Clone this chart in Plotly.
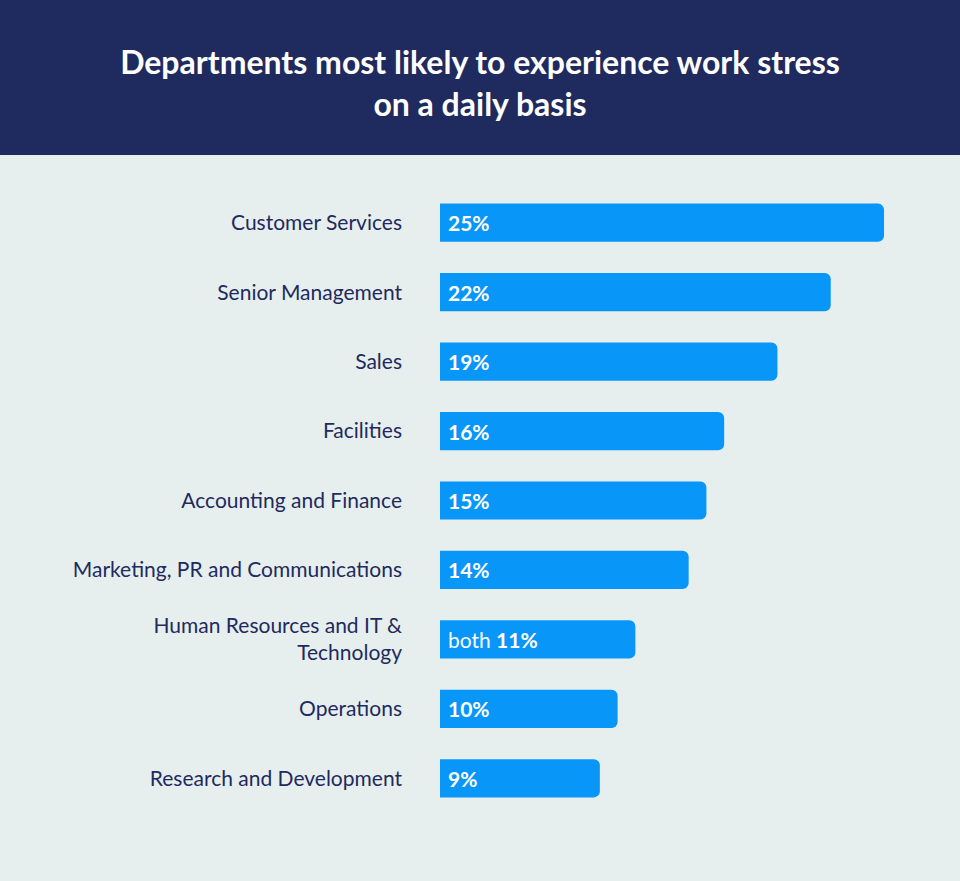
import plotly.graph_objects as go

departments = [
    "Customer Services",
    "Senior Management",
    "Sales",
    "Facilities",
    "Accounting and Finance",
    "Marketing, PR and Communications",
    "Human Resources and IT &<br>Technology",
    "Operations",
    "Research and Development",
]
values = [25, 22, 19, 16, 15, 14, 11, 10, 9]
value_labels = ["<b>25%</b>", "<b>22%</b>", "<b>19%</b>", "<b>16%</b>", "<b>15%</b>",
                "<b>14%</b>", "both <b>11%</b>", "<b>10%</b>", "<b>9%</b>"]

NAVY = "#1f2a5e"
BG = "#e6efee"
BLUE = "#0896f8"

fig = go.Figure()
fig.add_trace(go.Bar(
    x=values, y=departments, orientation="h",
    marker=dict(color=BLUE, line=dict(width=0)),
    hoverinfo="skip",
))

for d, v, t in zip(departments, values, value_labels):
    fig.add_annotation(x=0, y=d, xref="x", yref="y", text=t, showarrow=False,
                       xanchor="left", yanchor="middle", xshift=6,
                       font=dict(family="Lato", size=21, color="white"))

fig.add_shape(type="rect", xref="paper", yref="paper", x0=-1.2, x1=1.3,
              y0=1.053, y1=1.4, fillcolor=NAVY, line=dict(width=0), layer="below")

fig.update_layout(
    width=960, height=881,
    paper_bgcolor=BG, plot_bgcolor=BG,
    margin=dict(l=440, r=60, t=188, b=68),
    bargap=0.45,
    barcornerradius=6,
    showlegend=False,
    title=dict(text="Departments most likely to experience work stress<br>on a daily basis",
               x=0.5, xref="container", xanchor="center",
               y=1 - 74 / 881, yref="container", yanchor="middle",
               font=dict(family="Lato", size=32, color="white", weight="bold")),
    xaxis=dict(range=[0, 25.9], visible=False, fixedrange=True),
    yaxis=dict(autorange="reversed", showgrid=False, zeroline=False, showline=False,
               ticks="", ticklabelstandoff=37, fixedrange=True,
               tickfont=dict(family="Lato", size=21, color=NAVY)),
)

fig.write_html("out.html", config={"displayModeBar": False},
               post_script="document.body.style.margin='0';")
